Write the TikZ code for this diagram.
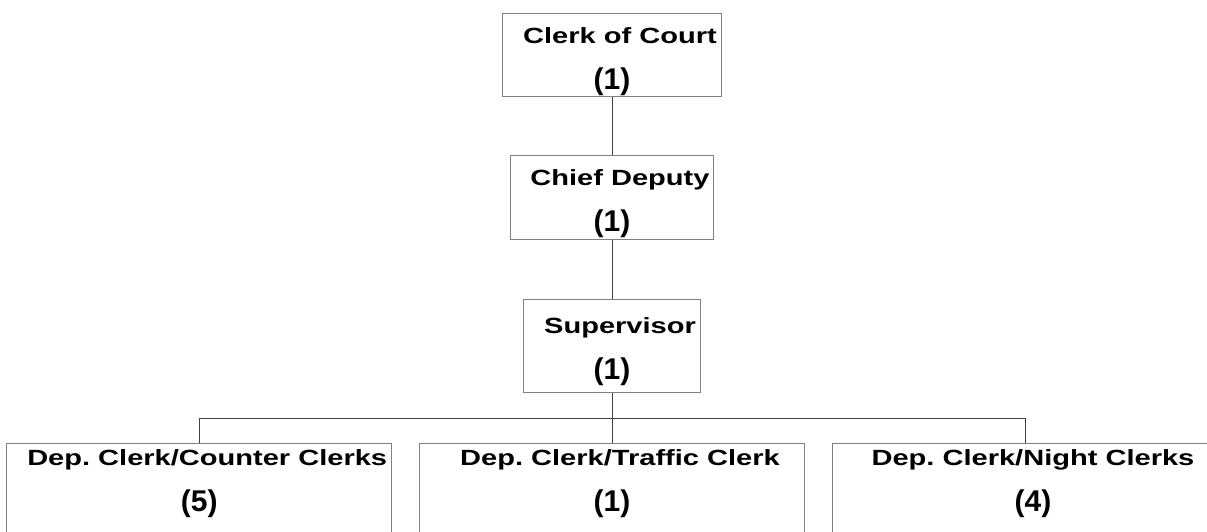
\documentclass[tikz,border=0pt]{standalone}
\usepackage{fontspec}
\setmainfont{Liberation Sans}
\newfontfamily\orgfont[FakeStretch=1.32]{Liberation Sans}
\usepackage{xcolor}
\usepackage{tikz}
\usetikzlibrary{positioning}
\frenchspacing
\definecolor{boxline}{HTML}{808080}
\definecolor{wire}{HTML}{404040}
\newcommand{\lead}{\hspace*{16pt}}
\newcommand{\headcount}[1]{{\normalfont\bfseries\fontsize{30}{46}\selectfont #1}}
\tikzset{
  line cap=round,
  line join=round,
  every picture/.style={line width=1pt},
  box/.style={draw=boxline, anchor=north, align=center, inner xsep=0pt, inner ysep=0pt,
    font=\orgfont\fontsize{22}{46}\selectfont\bfseries},
  wireline/.style={draw=wire, line width=1pt}
}
\begin{document}
\begin{tikzpicture}[x=1pt, y=-1pt]
    \clip (0,0) rectangle (1207,531);
    \fill[white] (0,0) rectangle (1207,531);
    % top of the chain
    \node[box, minimum width=219.6pt, text height=76.3pt, text depth=6.7pt] (clerk) at (612,12.7)
      {\lead Clerk of Court\\\headcount{(1)}};
    \node[box, minimum width=202.6pt, text height=76pt, text depth=8pt] (chief) at (612,155)
      {\lead Chief Deputy\\\headcount{(1)}};
    \node[box, minimum width=177.7pt, text height=79.7pt, text depth=13pt] (super) at (612,299.3)
      {\lead Supervisor\\\headcount{(1)}};
    % deputy clerks
    \node[box, minimum width=385pt, text height=67.7pt, text depth=30pt] (counter) at (199.2,443.3)
      {\lead Dep. Clerk/Counter Clerks\\\headcount{(5)}};
    \node[box, minimum width=385.7pt, text height=67.7pt, text depth=30pt] (traffic) at (612,443.3)
      {\lead Dep. Clerk/Traffic Clerk\\\headcount{(1)}};
    \node[box, minimum width=385.7pt, text height=67.7pt, text depth=30pt] (night) at (1025,443.3)
      {\lead Dep. Clerk/Night Clerks\\\lead\headcount{(4)}};
    \draw[wireline] (clerk.south) -- (chief.north);
    \draw[wireline] (chief.south) -- (super.north);
    \draw[wireline] (super.south) -- (traffic.north);
    \draw[wireline] (counter.north) -- ++(0,-25.3) -| (night.north);
  \end{tikzpicture}
\end{document}
